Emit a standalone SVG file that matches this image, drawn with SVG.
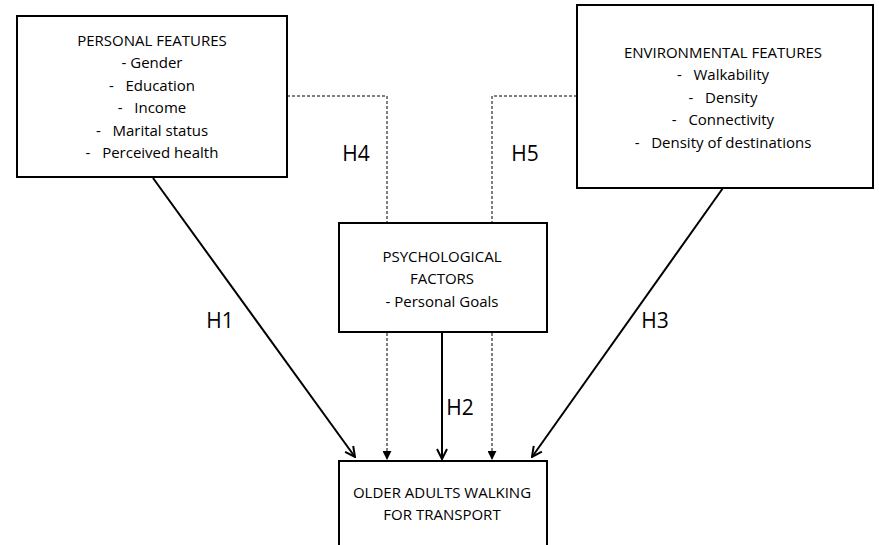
<svg xmlns="http://www.w3.org/2000/svg" width="879" height="545" viewBox="0 0 879 545">
<defs>
<style>
.box{fill:#fff;stroke:#000;stroke-width:2}
.t{font-family:"Open Sans","Liberation Sans",sans-serif;font-size:15px;fill:#000;text-anchor:middle;white-space:pre}
.h{font-family:"Open Sans","Liberation Sans",sans-serif;font-size:21px;fill:#000;text-anchor:middle}
.solid{fill:none;stroke:#000;stroke-width:2}
.dash{fill:none;stroke:#000;stroke-width:1;stroke-dasharray:3,2}
</style>
<marker id="open" viewBox="0 0 12 12" refX="11" refY="6" markerWidth="12" markerHeight="12" markerUnits="userSpaceOnUse" orient="auto">
<path d="M1,1 L11,6 L1,11" fill="none" stroke="#000" stroke-width="2"/>
</marker>
<marker id="tri" viewBox="0 0 10 10" refX="9" refY="5" markerWidth="9" markerHeight="9" markerUnits="userSpaceOnUse" orient="auto">
<path d="M0,0 L10,5 L0,10 Z" fill="#000"/>
</marker>
</defs>
<g id="connectors">
<path class="solid" d="M153,178 L355,457" marker-end="url(#open)"/>
<path class="solid" d="M723,188 L532,457" marker-end="url(#open)"/>
<path class="solid" d="M442,332 L442,459" marker-end="url(#open)"/>
<path class="dash" d="M287,96 L387,96 L387,223"/>
<path class="dash" d="M577,96 L492,96 L492,223"/>
<path class="dash" d="M387,333 L387,459" marker-end="url(#tri)"/>
<path class="dash" d="M492,333 L492,459" marker-end="url(#tri)"/>
<text class="h" x="220" y="328">H1</text>
<text class="h" x="460" y="415">H2</text>
<text class="h" x="655" y="328">H3</text>
<text class="h" x="356" y="161">H4</text>
<text class="h" x="525" y="161">H5</text>
</g>
<g id="personal">
<rect class="box" x="17" y="16" width="270" height="161"/>
<text class="t" x="152" y="46">PERSONAL FEATURES</text>
<text class="t" x="152" y="68">- Gender</text>
<text class="t" x="152" y="91">-   Education</text>
<text class="t" x="152" y="113">-   Income</text>
<text class="t" x="152" y="136">-   Marital status</text>
<text class="t" x="152" y="158">-   Perceived health</text>
</g>
<g id="environmental">
<rect class="box" x="577" y="5" width="296" height="183"/>
<text class="t" x="723" y="58">ENVIRONMENTAL FEATURES</text>
<text class="t" x="723" y="80">-   Walkability</text>
<text class="t" x="723" y="103">-   Density</text>
<text class="t" x="723" y="125">-   Connectivity</text>
<text class="t" x="723" y="148">-   Density of destinations</text>
</g>
<g id="psychological">
<rect class="box" x="339" y="223" width="208" height="109"/>
<text class="t" x="442" y="262">PSYCHOLOGICAL</text>
<text class="t" x="442" y="284">FACTORS</text>
<text class="t" x="442" y="307">- Personal Goals</text>
</g>
<g id="outcome">
<rect class="box" x="339" y="461" width="208" height="100"/>
<text class="t" x="442" y="498">OLDER ADULTS WALKING</text>
<text class="t" x="442" y="520">FOR TRANSPORT</text>
</g>
</svg>
